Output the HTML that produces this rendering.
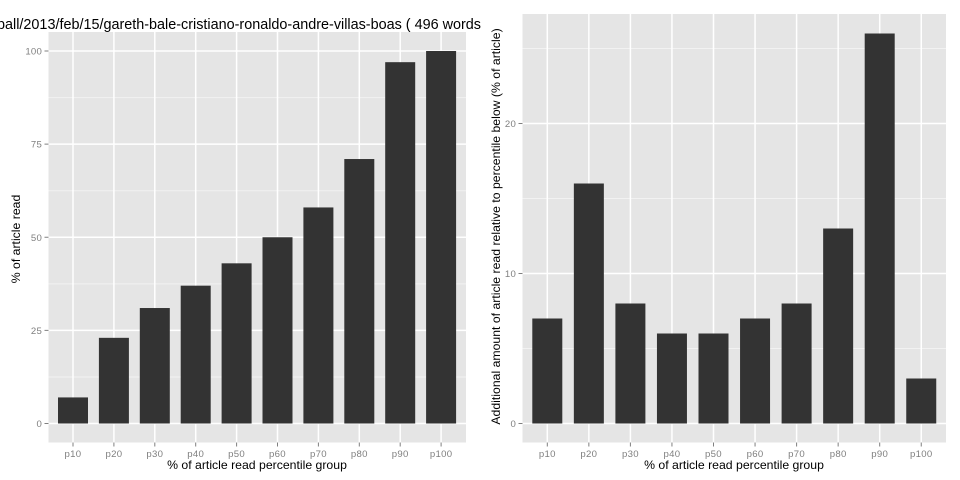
<!DOCTYPE html>
<html>
<head>
<meta charset="utf-8">
<title>Article read percentile charts</title>
<style>
html,body{margin:0;padding:0;background:#fff;width:960px;height:480px;overflow:hidden}
svg{display:block}
text{font-family:"Liberation Sans",sans-serif}
</style>
</head>
<body>
<svg id="chart" width="960" height="480" viewBox="0 0 960 480" xmlns="http://www.w3.org/2000/svg">
<text x="481" y="29" text-anchor="end" font-size="14.4" fill="#000">ball/2013/feb/15/gareth-bale-cristiano-ronaldo-andre-villas-boas ( 496 words</text>
<text x="257" y="469" text-anchor="middle" font-size="12.25" fill="#000">% of article read percentile group</text>
<text transform="translate(20,239) rotate(-90)" text-anchor="middle" font-size="12.25" fill="#000">% of article read</text>
<text x="734" y="469" text-anchor="middle" font-size="12.25" fill="#000">% of article read percentile group</text>
<text transform="translate(500,226.5) rotate(-90)" text-anchor="middle" font-size="12.25" fill="#000">Additional amount of article read relative to percentile below (% of article)</text>
</svg>
<script>
var categories = ['p10','p20','p30','p40','p50','p60','p70','p80','p90','p100'];
var leftValues = [7,23,31,37,43,50,58,71,97,100];
var rightValues = [7,16,8,6,6,7,8,13,26,3];
var leftTicks = [0,25,50,75,100];
var rightTicks = [0,10,20];
var leftMinorTicks = [12.5,37.5,62.5,87.5];
var rightMinorTicks = [5,15,25];

var svg = document.getElementById('chart');
var NS = 'http://www.w3.org/2000/svg';

function make(tag, attrs, parent) {
  var el = document.createElementNS(NS, tag);
  for (var k in attrs) { el.setAttribute(k, attrs[k]); }
  parent.appendChild(el);
  return el;
}

function drawPanel(prefix, panel, values, ticks, minorTicks) {
  var g = make('g', {}, svg);
  
  

  function xScale(i) { return panel.x0 + i * panel.step; }
  function yScale(v) { return panel.y0 - v * panel.unit; }

  var bg = make('rect', {x: panel.left, y: panel.top, width: panel.right - panel.left, height: panel.bottom - panel.top, fill: '#e5e5e5'}, g);
  
  

  minorTicks.forEach(function (t) {
    var minor = make('line', {x1: panel.left, x2: panel.right, y1: yScale(t), y2: yScale(t), stroke: '#f2f2f2', 'stroke-width': 1}, g);
    
    
  });

  ticks.forEach(function (t) {
    var y = yScale(t);
    var grid = make('line', {x1: panel.left, x2: panel.right, y1: y, y2: y, stroke: '#fff', 'stroke-width': 1.5}, g);
    
    
    var mark = make('line', {x1: panel.left - 4, x2: panel.left, y1: y, y2: y, stroke: '#7f7f7f', 'stroke-width': 1}, g);
    
    
    var label = make('text', {x: panel.left - 6.5, y: y + 3.5, 'text-anchor': 'end', 'font-size': 9.6, 'letter-spacing': 0.2, fill: '#7f7f7f'}, g);
    
    
    label.textContent = t;
  });

  categories.forEach(function (c, i) {
    var x = xScale(i);
    var grid = make('line', {x1: x, x2: x, y1: panel.top, y2: panel.bottom, stroke: '#fff', 'stroke-width': 1.5}, g);
    
    
    var mark = make('line', {x1: x, x2: x, y1: panel.bottom, y2: panel.bottom + 4, stroke: '#7f7f7f', 'stroke-width': 1}, g);
    
    
    var label = make('text', {x: x, y: panel.bottom + 14.5, 'text-anchor': 'middle', 'font-size': 9.6, 'letter-spacing': 0.3, fill: '#7f7f7f'}, g);
    
    
    label.textContent = c;
  });

  values.forEach(function (v, i) {
    var bar = make('rect', {x: xScale(i) - panel.barWidth / 2, y: yScale(v), width: panel.barWidth, height: panel.y0 - yScale(v), fill: '#333333'}, g);
    
    
  });
}

drawPanel('left', {left: 48.5, right: 466, top: 32, bottom: 442.5, x0: 73, step: 40.9, y0: 423.5, unit: 3.725, barWidth: 30}, leftValues, leftTicks, leftMinorTicks);
drawPanel('right', {left: 522.5, right: 946, top: 14, bottom: 442.5, x0: 547.3, step: 41.55, y0: 423.5, unit: 15, barWidth: 30}, rightValues, rightTicks, rightMinorTicks);
</script>
</body>
</html>
